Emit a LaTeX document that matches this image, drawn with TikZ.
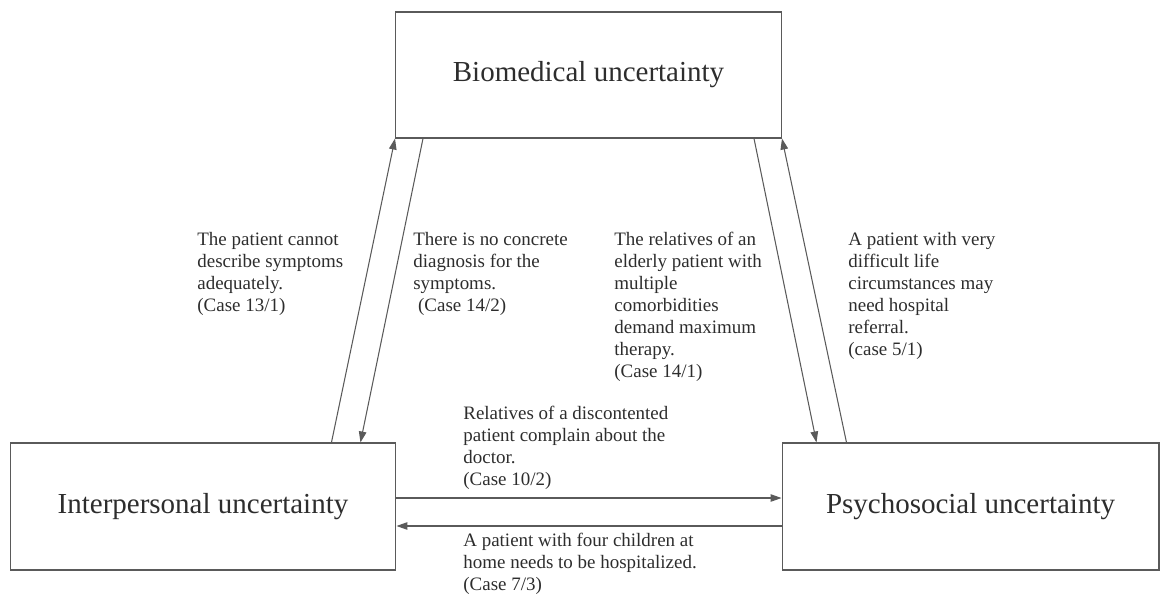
\documentclass[tikz,border=0pt]{standalone}
\usepackage{fontspec}
\setmainfont{Liberation Serif}
\usetikzlibrary{arrows.meta, positioning, calc}
\definecolor{edgegray}{RGB}{90,90,90}
\definecolor{textgray}{RGB}{45,45,45}

\begin{document}
\begin{tikzpicture}[
    x=0.02cm, y=-0.02cm,
    every node/.style={text=textgray},
    box/.style={
      rectangle, draw=edgegray, line width=0.6pt,
      minimum width=7.72cm, minimum height=2.54cm,
      font=\fontsize{16.5}{19}\selectfont
    },
    note/.style={
      anchor=north west, inner sep=0pt, align=left,
      font=\fontsize{10.8}{12.5}\selectfont
    },
    arrow/.style={-{Triangle[length=2.2mm,width=1.5mm]}, draw=edgegray, line width=0.6pt}
  ]
    \useasboundingbox (0,0) rectangle (1162,594);

    % the three kinds of uncertainty
    \node[box, minimum height=2.52cm] (bio) at (588.5,75) {Biomedical uncertainty};
    \node[box] (inter) at (203,506.5) {Interpersonal uncertainty};
    \node[box, minimum width=7.54cm] (psy) at (970.5,506.5) {Psychosocial uncertainty};

    % case notes
    \node[note] (n131) at (197,232) {The patient cannot\\describe symptoms\\adequately.\\(Case 13/1)};
    \node[note] (n142) at (413,232) {There is no concrete\\diagnosis for the\\symptoms.\\\ (Case 14/2)};
    \node[note] (n141) at (614,232) {The relatives of an\\elderly patient with\\multiple\\comorbidities\\demand maximum\\therapy.\\(Case 14/1)};
    \node[note] (n51) at (848,232) {A patient with very\\difficult life\\circumstances may\\need hospital\\referral.\\(case 5/1)};
    \node[note] (n102) at (463,406) {Relatives of a discontented\\patient complain about the\\doctor.\\(Case 10/2)};
    \node[note] (n73) at (463,533) {A patient with four children at\\home needs to be hospitalized.\\(Case 7/3)};

    % connectors
    \draw[arrow] ([xshift=6.44cm]inter.north west) -- (bio.south west);
    \draw[arrow] ([xshift=0.56cm]bio.south west) -- ([xshift=7.02cm]inter.north west);
    \draw[arrow] ([xshift=-0.56cm]bio.south east) -- ([xshift=0.7cm]psy.north west);
    \draw[arrow] ([xshift=1.3cm]psy.north west) -- (bio.south east);
    \draw[arrow] ([yshift=0.17cm]inter.east) -- ([yshift=0.17cm]psy.west);
    \draw[arrow] ([yshift=-0.39cm]psy.west) -- ([yshift=-0.39cm]inter.east);
  \end{tikzpicture}
\end{document}
